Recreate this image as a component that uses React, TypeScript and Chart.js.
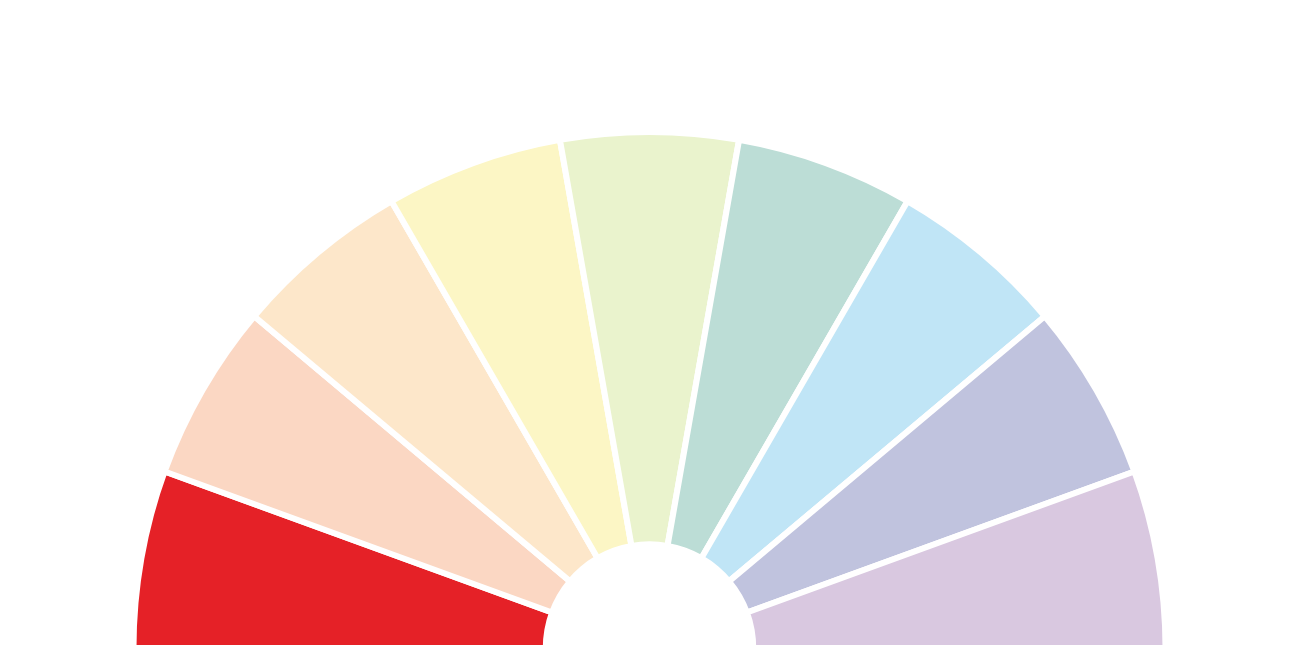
import React, { useEffect, useRef } from "react";
import { Chart, registerables } from "chart.js";

Chart.register(...registerables);

const categories = ["1", "2", "3", "4", "5", "6", "7", "8", "9"];
const values = [1, 1, 1, 1, 1, 1, 1, 1, 1];
const colors = [
  "#E52127",
  "#FBD7C3",
  "#FDE7CA",
  "#FCF6C5",
  "#EAF3CD",
  "#BCDDD6",
  "#C0E5F6",
  "#C0C3DE",
  "#D9C8E0",
];

export default function App() {
  const ref = useRef<HTMLCanvasElement | null>(null);
  useEffect(() => {
    if (!ref.current) return;
    const chart = new Chart(ref.current, {
      type: "doughnut",
      data: {
        labels: categories,
        datasets: [
          {
            data: values,
            backgroundColor: colors,
            borderColor: "#ffffff",
            borderWidth: 6,
            radius: 516,
            cutout: "20.1%",
            clip: false,
          } as any,
        ],
      },
      options: {
        animation: false,
        responsive: true,
        maintainAspectRatio: false,
        rotation: -90,
        circumference: 180,
        layout: { padding: { top: 114, bottom: 0, left: 0, right: 0 } },
        plugins: {
          legend: { display: false },
          tooltip: { enabled: false },
        },
      },
    });
    return () => chart.destroy();
  }, []);
  return (
    <div style={{ width: 1283, height: 650, position: "relative" }}>
      <canvas ref={ref} />
    </div>
  );
}
